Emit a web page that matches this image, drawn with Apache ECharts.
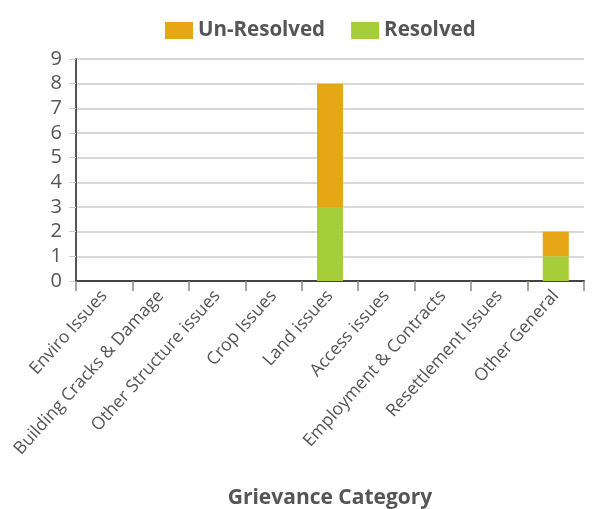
<!DOCTYPE html>
<html>
<head>
<meta charset="utf-8">
<script src="https://cdn.jsdelivr.net/npm/echarts@6/dist/echarts.min.js"></script>
<style>
	html, body { margin: 0; padding: 0; background: #fff; }
	#chart { width: 598px; height: 509px; }
</style>
</head>
<body>
<div id="chart"></div>
<script>
	var categories = ['Enviro Issues', 'Building Cracks & Damage', 'Other Structure issues', 'Crop Issues',
		'Land issues', 'Access issues', 'Employment & Contracts', 'Resettlement Issues', 'Other General'];
	var resolved = [0, 0, 0, 0, 3, 0, 0, 0, 1];
	var unresolved = [0, 0, 0, 0, 5, 0, 0, 0, 1];

	var chart = echarts.init(document.getElementById('chart'));
	var textColor = '#555555';
	var option = {
		animation: false,
		textStyle: { fontFamily: 'Open Sans' },
		legend: {
			top: 15,
			left: 160,
			icon: 'rect',
			itemWidth: 28,
			itemHeight: 17,
			itemGap: 26,
			textStyle: { fontSize: 20.5, fontWeight: 'bold', color: textColor },
			data: ['Un-Resolved', 'Resolved']
		},
		grid: { left: 76, right: 14, top: 59, bottom: 228, outerBoundsMode: 'none', containLabel: false },
		xAxis: {
			type: 'category',
			data: categories,
			name: 'Grievance Category',
			nameLocation: 'middle',
			nameGap: 207,
			nameTextStyle: { fontSize: 21, fontWeight: 'bold', color: textColor },
			axisLine: { lineStyle: { color: '#444', width: 2 } },
			axisTick: { show: true, length: 10, lineStyle: { color: '#888', width: 1.5 } },
			axisLabel: { rotate: 48, fontSize: 17.5, color: textColor, margin: 12, interval: 0 }
		},
		yAxis: {
			type: 'value',
			min: 0,
			max: 9,
			interval: 1,
			axisLine: { show: true, lineStyle: { color: '#555', width: 2 } },
			axisTick: { show: true, length: 7, lineStyle: { color: '#cccccc' } },
			axisLabel: { fontSize: 20, color: textColor, margin: 14 },
			splitLine: { lineStyle: { color: '#cccccc', width: 1.5 } }
		},
		series: [
			{
				name: 'Resolved',
				type: 'bar',
				stack: 'total',
				barWidth: 26,
				itemStyle: { color: '#a6ce39' },
				data: resolved
			},
			{
				name: 'Un-Resolved',
				type: 'bar',
				stack: 'total',
				barWidth: 26,
				itemStyle: { color: '#e6a616' },
				data: unresolved
			}
		]
	};
	chart.setOption(option);
</script>
</body>
</html>
